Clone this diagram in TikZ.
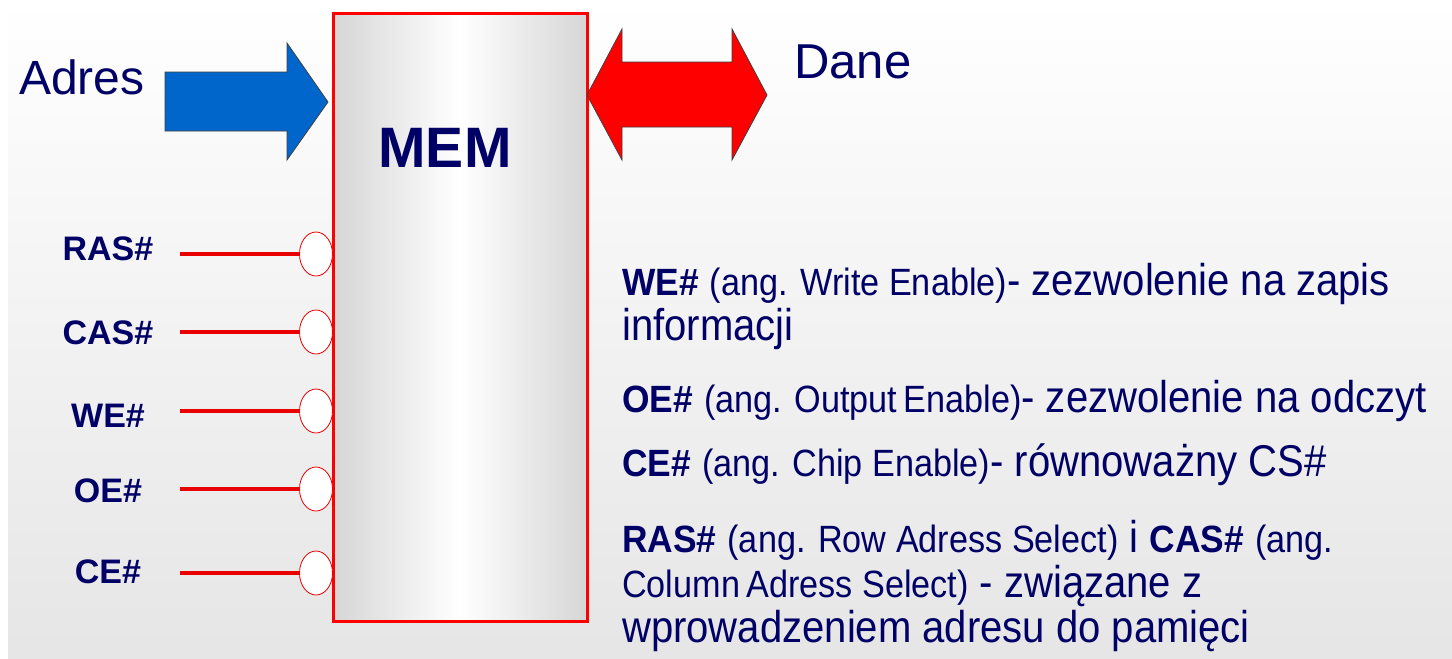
\documentclass[tikz,border=0pt]{standalone}
\usepackage{fontspec}
\setmainfont{Liberation Sans}
\newfontfamily\narrowsans[FakeStretch=0.9]{Liberation Sans}
\newfontfamily\boldnarrow[FakeStretch=0.93]{Liberation Sans}
\usetikzlibrary{shapes.geometric}
\definecolor{navy}{RGB}{0,0,102}
\definecolor{pinred}{RGB}{235,0,0}
\definecolor{ablue}{RGB}{0,102,204}
\definecolor{boxgray}{RGB}{214,214,214}
\newcommand\lblb[1]{{\boldnarrow\bfseries\fontsize{38}{44}\selectfont #1}}
\newcommand\angt[1]{{\narrowsans\fontsize{38}{42}\selectfont #1}}
\tikzset{
  txt/.style={text=navy, inner sep=0pt, anchor=base west, font=\narrowsans\fontsize{44.5}{50}\selectfont},
  pinlbl/.style={text=navy, inner sep=0pt, anchor=base, font=\bfseries\fontsize{34}{40}\selectfont},
  bubble/.style={ellipse, draw=pinred, line width=0.8pt, fill=white, minimum width=33pt, minimum height=44pt, inner sep=0pt},
  pinline/.style={draw=pinred, line width=3.5pt},
  bigarrow/.style={draw=black!75, line width=0.8pt, line join=miter},
}
\begin{document}
\begin{tikzpicture}[x=1pt,y=-1pt]
\useasboundingbox (0,0) rectangle (1452,659);
\fill[white] (0,0) rectangle (1452,659);
\shade[top color=white, bottom color=black!10] (8,0) rectangle (1452,659);

% memory box
\node[draw=red, line width=3pt, minimum width=254pt, minimum height=608pt, inner sep=0pt,
      shading=axis, left color=boxgray, right color=boxgray, middle color=white] (box) at (460,317) {};
\node[text=navy, inner sep=0pt, anchor=base, font=\bfseries\fontsize{57}{60}\selectfont] (mem) at (445,167) {MEM};

% address arrow
\path[bigarrow, fill=ablue] (165,72) -- (287,72) -- (287,43) -- (328,102) -- (287,160) -- (287,131) -- (165,131) -- cycle;
\node[text=navy, inner sep=0pt, anchor=base west, font=\fontsize{48}{50}\selectfont] (adres) at (19,94) {Adres};

% data arrow
\path[bigarrow, fill=red] (587,95) -- (622,29) -- (622,62) -- (732,62) -- (732,29) -- (767,95) -- (732,160) -- (732,127) -- (622,127) -- (622,160) -- cycle;
\node[text=navy, inner sep=0pt, anchor=base west, font=\fontsize{49}{52}\selectfont] (dane) at (794,78) {Dane};

% control pins
\foreach \nm/\yy/\by/\tx in {ras/254/260/RAS\#, cas/332/344/CAS\#, we/411/427/WE\#, oe/489/502/OE\#, ce/573/583/CE\#}{
  \node[bubble] (b\nm) at (316,\yy) {};
  \coordinate (s\nm) at (180,\yy);
  \draw[pinline] (s\nm) -- (b\nm.west);
  \node[pinlbl] (l\nm) at (108,\by) {\tx};
}

% description
\node[txt] (t1) at (622,295) {\lblb{WE\#} \angt{(ang. Write Enable)}- zezwolenie na zapis};
\node[txt] (t2) at (622,340) {informacji};
\node[txt] (t3) at (622,412) {\lblb{OE\#} \angt{(ang. Output\,Enable)}- zezwolenie na odczyt};
\node[txt] (t4) at (622,476) {\lblb{CE\#} \angt{(ang. Chip Enable)}- równoważny CS\#};
\node[txt] (t5) at (622,552) {\lblb{RAS\#} \angt{(ang. Row Adress Select)} i \lblb{CAS\#} \angt{(ang.}};
\node[txt] (t6) at (622,597) {\angt{Column\,Adress Select)} - związane z};
\node[txt] (t7) at (622,642) {wprowadzeniem adresu do pamięci};
\end{tikzpicture}
\end{document}
